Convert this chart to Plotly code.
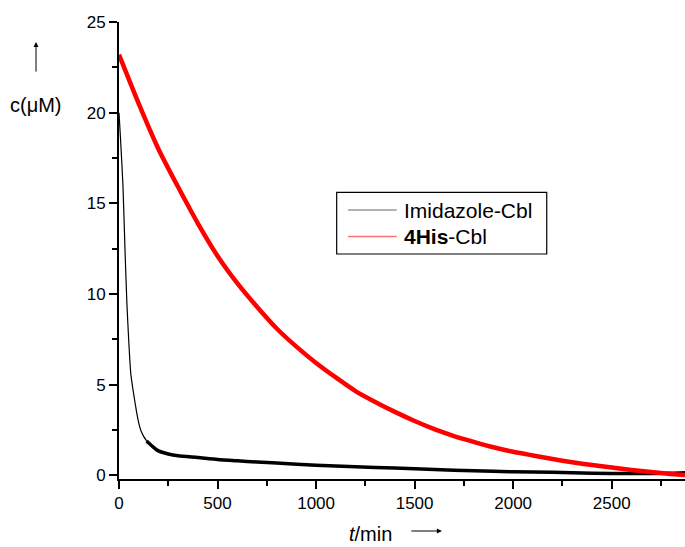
import plotly.graph_objects as go

# Red trace: 4His-Cbl
t_red = [0, 100, 200, 300, 400, 500, 600, 700, 800, 900, 1000, 1100, 1200, 1300, 1400,
         1500, 1600, 1700, 1800, 1900, 2000, 2100, 2200, 2300, 2400, 2500, 2600, 2700,
         2800, 2872]
c_red = [23.2, 20.5, 18.0, 15.9, 13.9, 12.1, 10.6, 9.3, 8.1, 7.1, 6.2, 5.4, 4.65, 4.05, 3.5,
         3.0, 2.55, 2.17, 1.85, 1.55, 1.3, 1.1, 0.9, 0.72, 0.57, 0.43, 0.3, 0.18,
         0.08, 0.02]

# Black trace: Imidazole-Cbl
t_blk = [0, 8, 20, 30, 40, 50, 60, 70, 80, 90, 100, 110, 125, 140, 170, 200, 250, 300,
         400, 500, 600, 700, 800, 1000, 1200, 1400, 1600, 1800, 2000, 2200, 2400, 2600,
         2800, 2872]
c_blk = [20.0, 18.5, 16.0, 12.6, 9.5, 7.3, 5.6, 4.8, 4.1, 3.45, 2.9, 2.5, 2.15, 1.9, 1.6,
         1.35, 1.18, 1.08, 0.98, 0.87, 0.8, 0.74, 0.68, 0.56, 0.47, 0.4, 0.33, 0.25, 0.2,
         0.17, 0.12, 0.1, 0.12, 0.15]

x_ticks = [0, 500, 1000, 1500, 2000, 2500]
y_ticks = [0, 5, 10, 15, 20, 25]
series_names = ["Imidazole-Cbl", "<b>4His</b>-Cbl"]
series_colors = ["black", "#ff0000"]
legend_line_colors = ["#999999", "#ff7070"]

FONT = "Liberation Sans, Arial, sans-serif"
split = t_blk.index(140)

fig = go.Figure()
fig.add_trace(go.Scatter(x=t_blk[:split + 1], y=c_blk[:split + 1], mode="lines",
                         name=series_names[0],
                         line=dict(color=series_colors[0], width=1.2, shape="spline",
                                   smoothing=0.6),
                         showlegend=False, hoverinfo="skip"))
fig.add_trace(go.Scatter(x=t_blk[split:], y=c_blk[split:], mode="lines",
                         name=series_names[0],
                         line=dict(color=series_colors[0], width=3.5, shape="spline",
                                   smoothing=0.6),
                         showlegend=False, hoverinfo="skip"))
fig.add_trace(go.Scatter(x=t_red, y=c_red, mode="lines", name=series_names[1],
                         line=dict(color=series_colors[1], width=4.5, shape="spline",
                                   smoothing=0.6),
                         showlegend=False, hoverinfo="skip"))

axis_common = dict(showgrid=False, zeroline=False, showline=True, linecolor="black",
                   linewidth=2, ticks="outside", ticklen=8, tickwidth=2,
                   tickcolor="black", tickfont=dict(family=FONT, size=17, color="black"))

fig.update_xaxes(range=[0, 2872], tickvals=x_ticks, ticktext=[str(v) for v in x_ticks],
                 minor=dict(ticks="outside", ticklen=5, tickwidth=1.5, tickcolor="black",
                            dtick=250, tick0=0),
                 **axis_common)
fig.update_yaxes(range=[-0.2, 25], tickvals=y_ticks, ticktext=[str(v) for v in y_ticks],
                 minor=dict(ticks="outside", ticklen=5, tickwidth=1.5, tickcolor="black",
                            dtick=2.5, tick0=0),
                 **axis_common)

# hand-built legend box (paper coordinates)
shapes = [dict(type="rect", xref="paper", yref="paper", x0=0.3846, x1=0.7557,
               y0=0.4923, y1=0.6274, line=dict(color="black", width=1.2),
               fillcolor="white", layer="above")]
legend_rows_y = [0.5886, 0.5306]
annotations = []
for name, lc, yy in zip(series_names, legend_line_colors, legend_rows_y):
    shapes.append(dict(type="line", xref="paper", yref="paper", x0=0.4048, x1=0.4906,
                       y0=yy, y1=yy, line=dict(color=lc, width=1.3), layer="above"))
    annotations.append(dict(text=name, xref="paper", yref="paper", x=0.5005, y=yy,
                            xanchor="left", yanchor="middle", showarrow=False,
                            font=dict(family=FONT, size=21, color="black")))

annotations += [
    dict(text="c(μM)", xref="paper", yref="paper", x=-0.1466, y=0.818,
         showarrow=False, font=dict(family=FONT, size=20, color="black"),
         xanchor="center", yanchor="middle"),
    dict(text="", xref="paper", yref="paper", x=-0.1466, y=0.956,
         ax=0, ay=31, showarrow=True, arrowhead=2, arrowsize=1, arrowwidth=1,
         arrowcolor="black"),
    dict(text="<i>t</i>/min", xref="paper", yref="paper", x=0.4435, y=0,
         yshift=-55, showarrow=False,
         font=dict(family=FONT, size=20, color="black"),
         xanchor="center", yanchor="middle"),
    dict(text="", xref="paper", yref="paper", x=0.5705, y=0, yshift=-52,
         ax=-32, ay=0, showarrow=True, arrowhead=2, arrowsize=1, arrowwidth=1,
         arrowcolor="black"),
]

fig.update_layout(
    width=685, height=547,
    margin=dict(l=119, r=0, t=22, b=68),
    paper_bgcolor="white", plot_bgcolor="white",
    showlegend=False,
    shapes=shapes,
    annotations=annotations,
)

fig.write_html("out.html")
